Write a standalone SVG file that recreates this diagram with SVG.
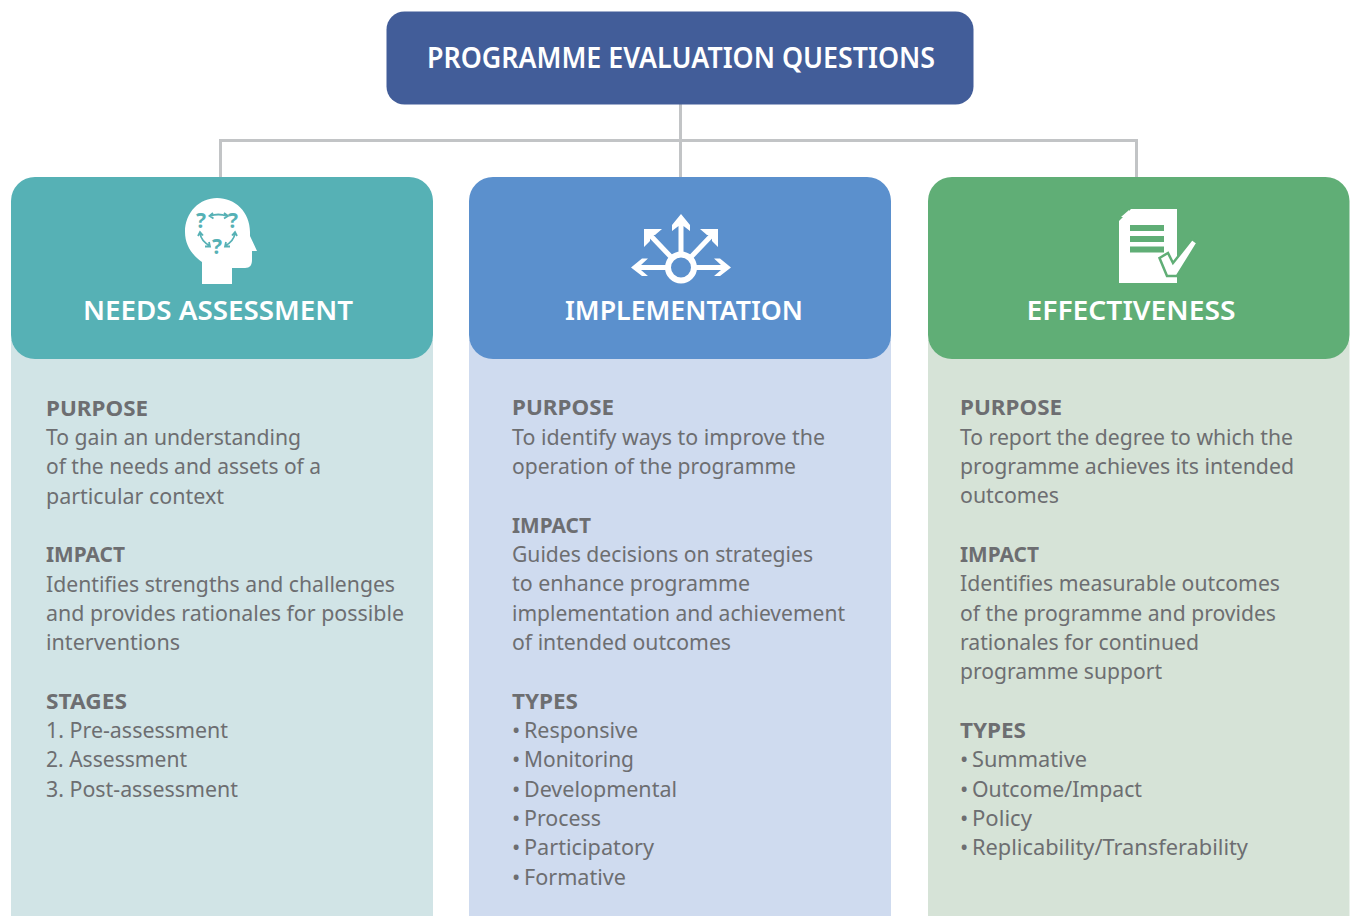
<svg xmlns="http://www.w3.org/2000/svg" width="1351" height="916" viewBox="0 0 1351 916">
<style>
text{font-family:"Noto Sans","Open Sans","Liberation Sans",sans-serif}
.t{font-size:22px;fill:#6d6e71}
.h{font-size:22px;font-weight:700;fill:#6d6e71}
.c{font-size:27px;font-weight:600;fill:#fff;text-anchor:middle}
.w{fill:#fff}
</style>
<rect width="1351" height="916" fill="#fff"/>
<g id="connectors" fill="none" stroke="#c2c4c6" stroke-width="3">
<path d="M680.500 104V177"/>
<path d="M220.500 177V140.500H1136.500V177"/>
</g>
<g id="root">
<rect x="386.500" y="11.500" width="587" height="93" rx="18" fill="#425d99"/>
<text x="681" y="68" text-anchor="middle" font-size="29" font-weight="600" fill="#fff" textLength="508" lengthAdjust="spacingAndGlyphs">PROGRAMME EVALUATION QUESTIONS</text>
</g>
<g id="needs">
<rect x="11" y="340" width="422" height="576" fill="#d1e4e6"/>
<rect x="11" y="177" width="422" height="182" rx="24" fill="#56b1b5"/>
<g id="head-icon">
<path class="w" d="M202 284V262C192 255 185 245 185 232C185 212 200 198 217 198C235 198 250 212 250 232V236L257 251H252V260C252 265 250 268 245 268H232V284Z"/>
<g fill="none" stroke="#56b1b5" stroke-width="1.800">
<path d="M210 216Q218 213 227 216M213 213L209.500 216L213.500 218.500M224 213L228 216L224 218.500"/>
<path d="M200 233Q201 241 210 246M198 236L200 232L203 235.500M205 246.500L210 246.500L209 242"/>
<path d="M235 233Q234 241 225 246M237 236L235 232L232 235.500M230 246.500L225 246.500L226 242"/>
</g>
<g font-size="21" font-weight="700" fill="#56b1b5" text-anchor="middle">
<text x="201" y="228">?</text><text x="233" y="228">?</text><text x="217" y="254">?</text>
</g>
</g>
<text class="c" x="218" y="320" textLength="270" lengthAdjust="spacingAndGlyphs">NEEDS ASSESSMENT</text>
<g>
<text class="h" x="46" y="416" textLength="102" lengthAdjust="spacingAndGlyphs">PURPOSE</text>
<text class="t" x="46" y="445" textLength="255" lengthAdjust="spacingAndGlyphs">To gain an understanding</text>
<text class="t" x="46" y="474" textLength="275" lengthAdjust="spacingAndGlyphs">of the needs and assets of a</text>
<text class="t" x="46" y="504" textLength="178" lengthAdjust="spacingAndGlyphs">particular context</text>
<text class="h" x="46" y="562" textLength="79" lengthAdjust="spacingAndGlyphs">IMPACT</text>
<text class="t" x="46" y="592" textLength="349" lengthAdjust="spacingAndGlyphs">Identifies strengths and challenges</text>
<text class="t" x="46" y="621" textLength="358" lengthAdjust="spacingAndGlyphs">and provides rationales for possible</text>
<text class="t" x="46" y="650" textLength="134" lengthAdjust="spacingAndGlyphs">interventions</text>
<text class="h" x="46" y="709" textLength="81" lengthAdjust="spacingAndGlyphs">STAGES</text>
<text class="t" x="46" y="738" textLength="182" lengthAdjust="spacingAndGlyphs">1. Pre-assessment</text>
<text class="t" x="46" y="767" textLength="141" lengthAdjust="spacingAndGlyphs">2. Assessment</text>
<text class="t" x="46" y="797" textLength="192" lengthAdjust="spacingAndGlyphs">3. Post-assessment</text>
</g>
</g>
<g id="implementation">
<rect x="469" y="340" width="422" height="576" fill="#cfdbef"/>
<rect x="469" y="177" width="422" height="182" rx="24" fill="#5b90cd"/>
<g id="arrows-icon">
<circle cx="681" cy="267.500" r="13" fill="none" stroke="#fff" stroke-width="6"/>
<path class="w" d="M681 214L690 225V231L683.500 226V252H678.500V226L672 231V225Z"/>
<path class="w" d="M631 267.500L642 258.500H648L641 265V265H666V270H641L648 276H642Z"/>
<path class="w" d="M731 267.500L720 258.500H714L721 265V265H696V270H721L714 276H720Z"/>
<path class="w" d="M644 229H662L655 235H650V241L644 247Z"/>
<path class="w" d="M718 229H700L707 235H712V241L718 247Z"/>
<path d="M650 235L671 257M712 235L691 257" fill="none" stroke="#fff" stroke-width="5"/>
</g>
<text class="c" x="684" y="320" textLength="238" lengthAdjust="spacingAndGlyphs">IMPLEMENTATION</text>
<g>
<text class="h" x="512" y="415" textLength="102" lengthAdjust="spacingAndGlyphs">PURPOSE</text>
<text class="t" x="512" y="445" textLength="313" lengthAdjust="spacingAndGlyphs">To identify ways to improve the</text>
<text class="t" x="512" y="474" textLength="284" lengthAdjust="spacingAndGlyphs">operation of the programme</text>
<text class="h" x="512" y="533" textLength="79" lengthAdjust="spacingAndGlyphs">IMPACT</text>
<text class="t" x="512" y="562" textLength="301" lengthAdjust="spacingAndGlyphs">Guides decisions on strategies</text>
<text class="t" x="512" y="591" textLength="238" lengthAdjust="spacingAndGlyphs">to enhance programme</text>
<text class="t" x="512" y="621" textLength="333" lengthAdjust="spacingAndGlyphs">implementation and achievement</text>
<text class="t" x="512" y="650" textLength="219" lengthAdjust="spacingAndGlyphs">of intended outcomes</text>
<text class="h" x="512" y="709" textLength="66" lengthAdjust="spacingAndGlyphs">TYPES</text>
<text class="t" x="512" y="738">•<tspan x="524" textLength="114" lengthAdjust="spacingAndGlyphs">Responsive</tspan></text>
<text class="t" x="512" y="767">•<tspan x="524" textLength="110" lengthAdjust="spacingAndGlyphs">Monitoring</tspan></text>
<text class="t" x="512" y="797">•<tspan x="524" textLength="153" lengthAdjust="spacingAndGlyphs">Developmental</tspan></text>
<text class="t" x="512" y="826">•<tspan x="524" textLength="77" lengthAdjust="spacingAndGlyphs">Process</tspan></text>
<text class="t" x="512" y="855">•<tspan x="524" textLength="130" lengthAdjust="spacingAndGlyphs">Participatory</tspan></text>
<text class="t" x="512" y="885">•<tspan x="524" textLength="102" lengthAdjust="spacingAndGlyphs">Formative</tspan></text>
</g>
</g>
<g id="effectiveness">
<rect x="928" y="340" width="421.500" height="576" fill="#d6e3d7"/>
<rect x="928" y="177" width="421.500" height="182" rx="24" fill="#60ae76"/>
<g id="doc-icon">
<path class="w" d="M1131 209H1177V283H1119V221Z"/>
<path class="w" d="M1121 217L1129 210V217Z"/>
<path d="M1130 225h34v6h-34zM1130 236h34v6h-34zM1130 246.500h34v6h-34z" fill="#60ae76"/>
<path d="M1159.500 258L1168 253L1173 263L1192 239L1197.500 243L1177 276H1167Z" fill="#fff" stroke="#60ae76" stroke-width="2.500"/>
</g>
<text class="c" x="1131" y="320" textLength="209" lengthAdjust="spacingAndGlyphs">EFFECTIVENESS</text>
<g>
<text class="h" x="960" y="415" textLength="102" lengthAdjust="spacingAndGlyphs">PURPOSE</text>
<text class="t" x="960" y="445" textLength="333" lengthAdjust="spacingAndGlyphs">To report the degree to which the</text>
<text class="t" x="960" y="474" textLength="334" lengthAdjust="spacingAndGlyphs">programme achieves its intended</text>
<text class="t" x="960" y="503" textLength="99" lengthAdjust="spacingAndGlyphs">outcomes</text>
<text class="h" x="960" y="562" textLength="79" lengthAdjust="spacingAndGlyphs">IMPACT</text>
<text class="t" x="960" y="591" textLength="320" lengthAdjust="spacingAndGlyphs">Identifies measurable outcomes</text>
<text class="t" x="960" y="621" textLength="316" lengthAdjust="spacingAndGlyphs">of the programme and provides</text>
<text class="t" x="960" y="650" textLength="239" lengthAdjust="spacingAndGlyphs">rationales for continued</text>
<text class="t" x="960" y="679" textLength="202" lengthAdjust="spacingAndGlyphs">programme support</text>
<text class="h" x="960" y="738" textLength="66" lengthAdjust="spacingAndGlyphs">TYPES</text>
<text class="t" x="960" y="767">•<tspan x="972" textLength="115" lengthAdjust="spacingAndGlyphs">Summative</tspan></text>
<text class="t" x="960" y="797">•<tspan x="972" textLength="170" lengthAdjust="spacingAndGlyphs">Outcome/Impact</tspan></text>
<text class="t" x="960" y="826">•<tspan x="972" textLength="60" lengthAdjust="spacingAndGlyphs">Policy</tspan></text>
<text class="t" x="960" y="855">•<tspan x="972" textLength="276" lengthAdjust="spacingAndGlyphs">Replicability/Transferability</tspan></text>
</g>
</g>
</svg>
